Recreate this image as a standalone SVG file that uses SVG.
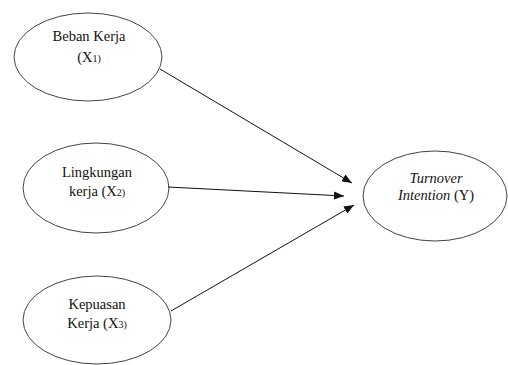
<svg xmlns="http://www.w3.org/2000/svg" width="508" height="365" viewBox="0 0 508 365">
<style>
.node ellipse{fill:#fff;stroke:#444;stroke-width:1}
text{font-family:'Liberation Serif','Times New Roman',Times,serif;font-size:14.5px;fill:#111;text-anchor:middle}
.sub{font-size:10px}
.conn line{stroke:#111;stroke-width:1}
</style>
<defs>
<marker id="ah" viewBox="0 0 10 8" refX="10" refY="4" markerWidth="10" markerHeight="8" markerUnits="userSpaceOnUse" orient="auto">
<path d="M0,0 L10,4 L0,8 z" fill="#111"/>
</marker>
</defs>
<g id="x1" class="node">
<ellipse cx="88" cy="57" rx="74" ry="44"/>
<text x="89" y="41" font-family="Liberation Serif, serif">Beban Kerja</text>
<text x="89" y="62" font-family="Liberation Serif, serif">(X<tspan class="sub">1)</tspan></text>
</g>
<g id="x2" class="node">
<ellipse cx="96" cy="188" rx="73" ry="45"/>
<text x="97" y="177" font-family="Liberation Serif, serif">Lingkungan</text>
<text x="97" y="196" font-family="Liberation Serif, serif">kerja (X<tspan class="sub">2)</tspan></text>
</g>
<g id="x3" class="node">
<ellipse cx="97" cy="320" rx="74" ry="44"/>
<text x="97" y="309" font-family="Liberation Serif, serif">Kepuasan</text>
<text x="97" y="328" font-family="Liberation Serif, serif">Kerja (X<tspan class="sub">3)</tspan></text>
</g>
<g id="y" class="node">
<ellipse cx="435" cy="196" rx="72" ry="45"/>
<text x="436" y="183" font-style="italic" font-family="Liberation Serif, serif">Turnover</text>
<text x="436" y="200" font-family="Liberation Serif, serif"><tspan font-style="italic">Intention</tspan> (Y)</text>
</g>
<g id="connectors" class="conn">
<line x1="160" y1="69" x2="352" y2="183" marker-end="url(#ah)"/>
<line x1="168" y1="187" x2="344" y2="196" marker-end="url(#ah)"/>
<line x1="171" y1="311" x2="354" y2="205" marker-end="url(#ah)"/>
</g>
</svg>
